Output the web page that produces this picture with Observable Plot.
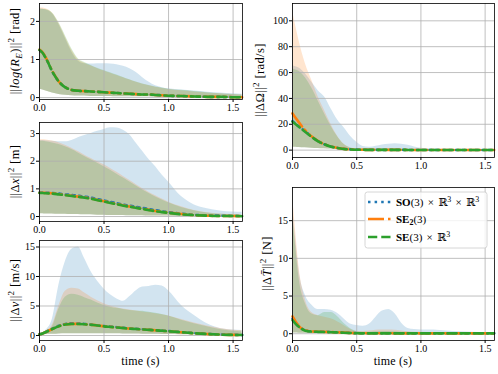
<!DOCTYPE html>
<html><head><meta charset="utf-8">
<script src="https://cdn.jsdelivr.net/npm/d3@7"></script>
<script src="https://cdn.jsdelivr.net/npm/@observablehq/plot@0.6"></script>
<style>
html,body{margin:0;padding:0;background:#fff;}
#fig{position:relative;width:498px;height:374px;overflow:hidden;background:#fff;}
#fig > svg{position:absolute;}
</style></head><body><div id="fig"></div>
<script>
// ---------- data ----------
const time = [0, 0.025, 0.05, 0.1, 0.15, 0.2, 0.25, 0.3, 0.35, 0.4, 0.45, 0.5, 0.55, 0.6, 0.65, 0.7, 0.75, 0.8, 0.85, 0.9, 0.95, 1.0, 1.1, 1.2, 1.3, 1.4, 1.5, 1.57];
const seriesNames = ["SO(3) × ℝ³ × ℝ³", "SE₂(3)", "SE(3) × ℝ³"];
const xTicks = [0, 0.5, 1.0, 1.5];
const rotTicks = [0, 1, 2];
const posTicks = [0, 1, 2, 3];
const velTicks = [0, 5, 10, 15];
const omegaTicks = [0, 20, 40, 60, 80, 100];
const thrustTicks = [0, 5, 10, 15];

// ||log(R_E)||^2
const rotLo    = [0.22,0.20,0.17,0.12,0.08,0.06,0.05,0.04,0.04,0.03,0.03,0.03,0.03,0.02,0.02,0.02,0.02,0.02,0.02,0.01,0.01,0.01,0.01,0.01,0.01,0.01,0.01,0.01];
const rotHiSO  = [2.32,2.32,2.30,2.20,1.92,1.56,1.20,0.96,0.89,0.88,0.89,0.89,0.88,0.86,0.82,0.76,0.66,0.52,0.40,0.31,0.26,0.23,0.20,0.17,0.14,0.12,0.10,0.09];
const rotHiSE2 = [2.36,2.35,2.33,2.22,1.95,1.60,1.25,1.00,0.90,0.83,0.76,0.70,0.64,0.58,0.52,0.46,0.40,0.35,0.31,0.27,0.24,0.21,0.18,0.15,0.12,0.10,0.08,0.07];
const rotHiSE3 = [2.33,2.32,2.31,2.22,1.97,1.63,1.28,1.02,0.92,0.84,0.77,0.71,0.65,0.59,0.53,0.47,0.41,0.36,0.32,0.28,0.25,0.22,0.19,0.16,0.13,0.10,0.08,0.07];
const rotMeanSO  = [1.25,1.17,1.03,0.68,0.42,0.27,0.20,0.18,0.17,0.16,0.15,0.14,0.13,0.12,0.11,0.10,0.09,0.08,0.08,0.07,0.06,0.05,0.04,0.03,0.02,0.02,0.01,0.01];
const rotMeanSE2 = [1.26,1.18,1.04,0.69,0.42,0.27,0.20,0.18,0.17,0.16,0.15,0.14,0.13,0.12,0.11,0.10,0.09,0.08,0.08,0.07,0.06,0.05,0.04,0.03,0.02,0.02,0.01,0.01];
const rotMeanSE3 = [1.25,1.17,1.03,0.68,0.42,0.27,0.20,0.18,0.17,0.16,0.15,0.14,0.13,0.12,0.11,0.10,0.09,0.08,0.08,0.07,0.06,0.05,0.04,0.03,0.02,0.02,0.01,0.01];

// ||Δx||^2
const posLo    = [0.10,0.10,0.09,0.09,0.08,0.08,0.07,0.07,0.06,0.06,0.05,0.05,0.04,0.04,0.04,0.03,0.03,0.03,0.02,0.02,0.02,0.02,0.01,0.01,0.01,0.01,0.01,0.01];
const posHiSO  = [2.75,2.75,2.74,2.72,2.70,2.70,2.75,2.85,2.93,3.00,3.08,3.15,3.21,3.20,3.12,2.95,2.65,2.35,2.05,1.80,1.50,1.25,0.72,0.42,0.28,0.20,0.16,0.15];
const posHiSE2 = [2.78,2.78,2.77,2.73,2.67,2.58,2.47,2.35,2.22,2.10,1.98,1.87,1.74,1.60,1.45,1.30,1.15,1.00,0.87,0.75,0.63,0.52,0.35,0.22,0.14,0.09,0.06,0.05];
const posHiSE3 = [2.72,2.72,2.70,2.66,2.60,2.52,2.42,2.30,2.17,2.05,1.93,1.80,1.67,1.53,1.39,1.25,1.10,0.96,0.83,0.71,0.60,0.50,0.33,0.21,0.13,0.08,0.06,0.05];
const posMeanSO  = [0.87,0.87,0.86,0.85,0.83,0.80,0.78,0.75,0.72,0.68,0.63,0.58,0.53,0.48,0.43,0.39,0.35,0.31,0.27,0.23,0.19,0.16,0.10,0.06,0.04,0.03,0.02,0.02];
const posMeanSE2 = [0.86,0.86,0.85,0.84,0.81,0.78,0.75,0.72,0.69,0.65,0.60,0.55,0.50,0.45,0.40,0.36,0.32,0.28,0.24,0.20,0.17,0.14,0.09,0.05,0.03,0.02,0.02,0.01];
const posMeanSE3 = [0.85,0.85,0.84,0.83,0.80,0.77,0.74,0.71,0.68,0.64,0.59,0.54,0.49,0.44,0.39,0.35,0.31,0.27,0.23,0.19,0.16,0.13,0.08,0.05,0.03,0.02,0.02,0.01];

// ||Δv||^2
const velLo    = [0.10,0.10,0.15,0.20,0.25,0.30,0.30,0.30,0.30,0.30,0.30,0.30,0.30,0.28,0.26,0.25,0.24,0.22,0.20,0.20,0.18,0.16,0.14,0.12,0.10,0.08,0.07,0.06];
const velHiSO  = [0.3,0.5,0.9,2.8,8.5,12.5,14.6,15.0,13.0,10.8,9.2,7.9,6.9,6.2,5.8,6.6,7.6,8.2,8.3,8.5,8.4,7.6,5.1,3.4,2.0,1.2,0.95,0.85];
const velHiSE2 = [0.3,0.4,0.7,1.8,5.0,7.5,8.0,7.9,7.2,6.5,5.9,5.4,5.0,4.7,4.5,4.3,4.15,4.0,3.85,3.7,3.5,3.3,2.7,2.1,1.6,1.2,0.9,0.8];
const velHiSE3 = [0.3,0.4,0.6,1.5,4.5,6.5,7.0,6.8,6.4,6.0,5.5,5.1,4.8,4.6,4.4,4.25,4.15,4.1,3.95,3.75,3.55,3.3,2.6,2.0,1.5,1.0,0.7,0.6];
const velMeanSO  = [0.2,0.35,0.6,1.15,1.65,1.95,2.05,2.02,1.95,1.85,1.72,1.6,1.5,1.4,1.3,1.2,1.12,1.05,0.97,0.9,0.82,0.74,0.56,0.4,0.27,0.16,0.11,0.09];
const velMeanSE2 = [0.2,0.35,0.6,1.1,1.58,1.88,1.97,1.96,1.91,1.81,1.7,1.56,1.46,1.36,1.26,1.16,1.1,1.02,0.95,0.88,0.8,0.72,0.55,0.38,0.25,0.15,0.1,0.08];
const velMeanSE3 = [0.2,0.35,0.6,1.1,1.55,1.85,1.95,1.95,1.9,1.8,1.7,1.55,1.45,1.35,1.25,1.15,1.1,1.02,0.95,0.88,0.8,0.72,0.55,0.38,0.25,0.15,0.1,0.08];

// ||ΔΩ||^2
const omegaLo    = [2.5,2.3,2.1,1.8,1.5,1.2,1.0,0.8,0.6,0.4,0.3,0.2,0.1,0.1,0.1,0.1,0.1,0.1,0.1,0.05,0.05,0.05,0.05,0.05,0.05,0.05,0.05,0.05];
const omegaHiSO  = [65,64.5,63.5,59,52.5,46,41,32,23.5,17.5,11,6,2.8,2.2,3,4,4.6,5,4.5,3.8,2.5,1.5,0.8,0.5,0.4,0.3,0.3,0.3];
const omegaHiSE2 = [108,96,85,67,54,41,30.5,20,11,4.7,1.8,0.9,0.6,0.6,0.6,0.6,0.6,0.5,0.5,0.4,0.4,0.3,0.3,0.2,0.2,0.2,0.2,0.2];
const omegaHiSE3 = [63,62,61,56,48,38,28,18.5,10.5,4.5,1.7,0.9,0.7,0.6,0.6,0.6,0.6,0.5,0.5,0.4,0.4,0.3,0.3,0.2,0.2,0.2,0.2,0.2];
const omegaMeanSO  = [22.5,20.2,18.2,14.6,10.3,6.9,4.5,2.8,1.7,1.0,0.6,0.4,0.3,0.25,0.2,0.2,0.2,0.2,0.2,0.15,0.15,0.15,0.1,0.1,0.1,0.1,0.1,0.1];
const omegaMeanSE2 = [28.4,24.8,21.5,15.2,10.5,7.0,4.5,2.8,1.7,1.0,0.5,0.3,0.25,0.2,0.2,0.2,0.2,0.2,0.2,0.15,0.15,0.15,0.1,0.1,0.1,0.1,0.1,0.1];
const omegaMeanSE3 = [22,20,18,14,10.2,6.8,4.4,2.7,1.6,0.9,0.5,0.3,0.25,0.2,0.2,0.2,0.2,0.2,0.2,0.15,0.15,0.15,0.1,0.1,0.1,0.1,0.1,0.1];

// ||ΔT||^2
const thrustLo    = [0.10,0.08,0.06,0.05,0.04,0.04,0.03,0.03,0.03,0.02,0.02,0.02,0.02,0.02,0.02,0.02,0.02,0.01,0.01,0.01,0.01,0.01,0.01,0.01,0.01,0.01,0.01,0.01];
const thrustHiSO  = [17,12.5,8.5,5.1,3.8,3.2,3.2,3.1,2.7,2.0,1.3,1.1,1.0,1.3,2.2,3.0,3.2,2.6,1.4,0.7,0.55,0.5,0.5,0.35,0.25,0.2,0.15,0.1];
const thrustHiSE2 = [18.5,13.5,9.0,4.5,2.8,2.4,2.2,2.0,1.6,1.1,0.6,0.3,0.3,0.35,0.45,0.5,0.5,0.45,0.35,0.25,0.2,0.2,0.15,0.1,0.1,0.1,0.1,0.1];
const thrustHiSE3 = [16,11.5,7.5,4.0,2.6,2.4,2.8,2.8,2.3,1.4,0.7,0.3,0.2,0.2,0.25,0.3,0.3,0.25,0.2,0.2,0.15,0.15,0.1,0.1,0.1,0.1,0.1,0.1];
const thrustMeanSO  = [2.0,1.45,0.95,0.45,0.3,0.27,0.25,0.22,0.18,0.14,0.1,0.07,0.06,0.06,0.06,0.06,0.06,0.05,0.05,0.05,0.05,0.05,0.05,0.05,0.05,0.05,0.05,0.05];
const thrustMeanSE2 = [2.3,1.6,1.0,0.45,0.3,0.27,0.25,0.22,0.18,0.14,0.1,0.07,0.06,0.06,0.06,0.06,0.06,0.05,0.05,0.05,0.05,0.05,0.05,0.05,0.05,0.05,0.05,0.05];
const thrustMeanSE3 = [1.8,1.3,0.9,0.4,0.28,0.25,0.23,0.2,0.17,0.13,0.09,0.06,0.05,0.05,0.05,0.05,0.05,0.05,0.05,0.05,0.05,0.05,0.05,0.05,0.05,0.05,0.05,0.05];

// ---------- styling ----------
const colors = ["#1f77b4", "#ff7f0e", "#2ca02c"];
const dashes = ["2.5,4.1", "16,4,2.5,4", "9.25,4"];
const FONT = "'Liberation Serif', 'DejaVu Serif', serif";

const rotLabel    = [["||"],["log","i"],["("],["R","i"],["E","sub"],[")||"],["2","sup"],[" [rad]"]];
const posLabel    = [["||Δ"],["x","i"],["||"],["2","sup"],[" [m]"]];
const velLabel    = [["||Δ"],["v","i"],["||"],["2","sup"],[" [m/s]"]];
const omegaLabel  = [["||ΔΩ||"],["2","sup"],[" [rad/s]"]];
const thrustLabel = [["||Δ"],["T\u0304","i"],["||"],["2","sup"],[" [N]"]];
const legendLabels = [
  [["SO","b"],["(3) × ℝ"],["3","sup"],[" × ℝ"],["3","sup"]],
  [["SE","b"],["2","bsub"],["(3)"]],
  [["SE","b"],["(3) × ℝ"],["3","sup"]]
];

const panels = [
  {left:0, top:0, width:250, height:116, ml:39, mr:8, mt:3, mb:17, y:[-0.05,2.47], ticks:rotTicks,
   lo:rotLo, hi:[rotHiSO,rotHiSE2,rotHiSE3], mean:[rotMeanSO,rotMeanSE2,rotMeanSE3], label:rotLabel, labelX:19},
  {left:0, top:116, width:250, height:120, ml:39, mr:8, mt:6, mb:15, y:[-0.18,3.4], ticks:posTicks,
   lo:posLo, hi:[posHiSO,posHiSE2,posHiSE3], mean:[posMeanSO,posMeanSE2,posMeanSE3], label:posLabel, labelX:19},
  {left:0, top:236, width:250, height:138, ml:39, mr:8, mt:4, mb:34, y:[-0.85,16.1], ticks:velTicks,
   lo:velLo, hi:[velHiSO,velHiSE2,velHiSE3], mean:[velMeanSO,velMeanSE2,velMeanSE3], label:velLabel, labelX:19, xlabel:true},
  {left:250, top:0, width:248, height:170, ml:42, mr:4, mt:3, mb:13, y:[-5.7,113.4], ticks:omegaTicks,
   lo:omegaLo, hi:[omegaHiSO,omegaHiSE2,omegaHiSE3], mean:[omegaMeanSO,omegaMeanSE2,omegaMeanSE3], label:omegaLabel, labelX:264},
  {left:250, top:170, width:248, height:204, ml:42, mr:4, mt:17, mb:34, y:[-0.9,19.4], ticks:thrustTicks,
   lo:thrustLo, hi:[thrustHiSO,thrustHiSE2,thrustHiSE3], mean:[thrustMeanSO,thrustMeanSE2,thrustMeanSE3], label:thrustLabel, labelX:271, xlabel:true, legend:true}
];

function addParts(sel, parts, size, opts) {
  let shift = 0;
  for (const [s, st] of parts) {
    const target = st === "sup" ? -opts.sup : (st === "sub" || st === "bsub") ? opts.sub : 0;
    const ts = sel.append("tspan").text(s);
    if (target !== shift) ts.attr("dy", target - shift);
    shift = target;
    if (st === "sup" || st === "sub" || st === "bsub") ts.attr("font-size", size * 0.72);
    if (st === "i" || st === "sub") ts.attr("font-style", "italic");
    if (st === "b" || st === "bsub") ts.attr("font-weight", "bold");
  }
}

const fig = d3.select("#fig");
for (const p of panels) {
  const rows = time.map((t, i) => ({t, lo: p.lo[i],
    h0: p.hi[0][i], h1: p.hi[1][i], h2: p.hi[2][i],
    m0: p.mean[0][i], m1: p.mean[1][i], m2: p.mean[2][i]}));
  const marks = [];
  for (let k = 0; k < 3; k++)
    marks.push(Plot.areaY(rows, {x: "t", y1: "lo", y2: "h" + k, fill: colors[k], fillOpacity: 0.2, curve: "monotone-x"}));
  marks.push(Plot.gridX(xTicks, {stroke: "#b0b0b0", strokeOpacity: 1, strokeWidth: 0.8}));
  marks.push(Plot.gridY(p.ticks, {stroke: "#b0b0b0", strokeOpacity: 1, strokeWidth: 0.8}));
  for (let k = 0; k < 3; k++)
    marks.push(Plot.lineY(rows, {x: "t", y: "m" + k, stroke: colors[k], strokeWidth: 2.6, strokeDasharray: dashes[k], curve: "monotone-x"}));
  marks.push(Plot.frame({stroke: "black", strokeWidth: 0.8}));
  marks.push(Plot.axisX(xTicks, {tickFormat: d => d.toFixed(1), tickSize: 3, tickPadding: 1.5, label: null}));
  marks.push(Plot.axisY(p.ticks, {tickFormat: d => String(d), tickSize: 3, tickPadding: 1.5, label: null}));
  const svg = Plot.plot({
    width: p.width, height: p.height,
    marginLeft: p.ml, marginRight: p.mr, marginTop: p.mt, marginBottom: p.mb,
    style: {fontFamily: FONT, fontSize: "10px", color: "black", background: "transparent", overflow: "visible"},
    x: {domain: [0, 1.573]},
    y: {domain: p.y},
    marks
  });
  svg.style.left = p.left + "px";
  svg.style.top = p.top + "px";
  fig.node().appendChild(svg);
  const s = d3.select(svg);
  const cy = (p.mt + p.height - p.mb) / 2;
  const lab = s.append("text").attr("transform", `translate(${p.labelX - p.left},${cy}) rotate(-90)`)
    .attr("text-anchor", "middle").attr("font-family", FONT).attr("font-size", 12.5)
    .attr("letter-spacing", 0.4).attr("fill", "black");
  addParts(lab, p.label, 12.5, {sup: 5, sub: 3});
  if (p.xlabel) {
    s.append("text").attr("x", (p.ml + p.width - p.mr) / 2).attr("y", 365 - p.top)
      .attr("text-anchor", "middle").attr("font-family", FONT).attr("font-size", 12).attr("letter-spacing", 0.2)
      .attr("fill", "black").text("time (s)");
  }
  if (p.legend) {
    const g = s.append("g").attr("font-family", FONT).attr("font-size", 11).attr("text-anchor", "start");
    g.append("rect").attr("x", 115).attr("y", 22).attr("width", 122).attr("height", 56).attr("rx", 2.5)
      .attr("fill", "white").attr("fill-opacity", 0.8).attr("stroke", "#cccccc").attr("stroke-width", 0.8);
    const rowsY = [32, 49, 67];
    legendLabels.forEach((parts, k) => {
      g.append("line").attr("x1", 118).attr("x2", 142).attr("y1", rowsY[k]).attr("y2", rowsY[k])
        .attr("stroke", colors[k]).attr("stroke-width", 2.6).attr("stroke-dasharray", dashes[k]);
      const t = g.append("text").attr("x", 146).attr("y", rowsY[k] + 3.8).attr("fill", "black")
        .attr("text-anchor", "start").attr("word-spacing", 1.5).attr("aria-label", seriesNames[k]);
      addParts(t, parts, 11, {sup: 4, sub: 2.5});
    });
  }
}
</script></body></html>
